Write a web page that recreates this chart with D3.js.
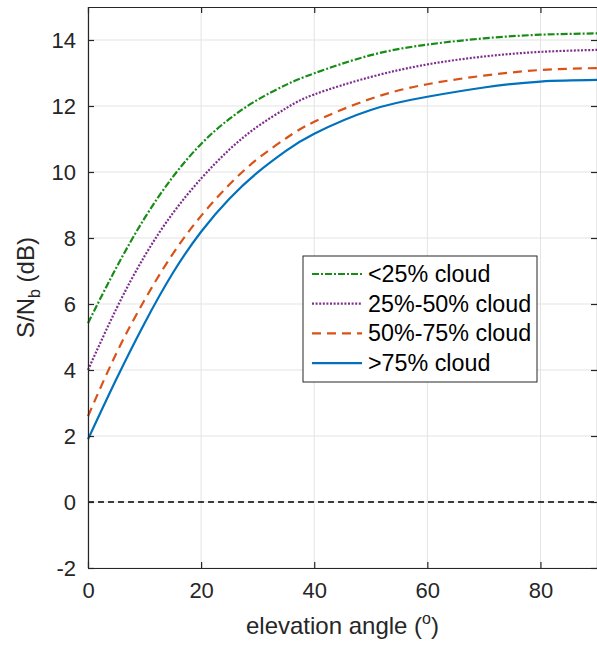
<!DOCTYPE html>
<html>
<head>
<meta charset="utf-8">
<script src="https://cdn.jsdelivr.net/npm/d3@7"></script>
<style>
  body { margin: 0; background: #fff; }
  svg { display: block; font-family: "Liberation Sans", Arial, sans-serif; }
</style>
</head>
<body>
<div class="chart"></div>
<script>
'use strict';

// values
var angles   = [0, 5, 10, 15, 20, 25, 30, 35, 40, 50, 60, 70, 80, 90];
var cloud25  = [5.42, 7.1, 8.6, 9.85, 10.85, 11.61, 12.19, 12.64, 12.99, 13.54, 13.86, 14.05, 14.16, 14.2];
var cloud50  = [4.0, 5.85, 7.45, 8.75, 9.8, 10.68, 11.38, 11.93, 12.35, 12.88, 13.26, 13.5, 13.64, 13.7];
var cloud75  = [2.6, 4.5, 6.12, 7.52, 8.67, 9.62, 10.4, 11.02, 11.52, 12.22, 12.66, 12.92, 13.09, 13.15];
var cloud100 = [1.9, 3.72, 5.42, 6.94, 8.19, 9.19, 9.99, 10.64, 11.16, 11.88, 12.28, 12.56, 12.74, 12.79];

var seriesNames = ["<25% cloud", "25%-50% cloud", "50%-75% cloud", ">75% cloud"];
var seriesColors = ["#178c17", "#7e2f8e", "#d95319", "#0072bd"];
var seriesDash = ["7,2,2,2", "2,1.6", "9,6", null];
var seriesValues = [cloud25, cloud50, cloud75, cloud100];

var xTicks = [0, 20, 40, 60, 80];
var yTicks = [-2, 0, 2, 4, 6, 8, 10, 12, 14];

var W = 597, H = 645;
var margin = {top: 7, right: 0, bottom: 77, left: 88};

var svg = d3.select(".chart").append("svg")
    .attr("width", W)
    .attr("height", H);

var x = d3.scaleLinear().domain([0, 90]).range([margin.left, W - margin.right]);
var y = d3.scaleLinear().domain([-2, 15]).range([H - margin.bottom, margin.top]);

// grid
svg.append("g").selectAll("line")
    .data(xTicks).enter().append("line")
    .attr("x1", function(d){ return x(d); }).attr("x2", function(d){ return x(d); })
    .attr("y1", y(-2)).attr("y2", y(15))
    .attr("stroke", "#e3e3e3").attr("stroke-width", 1);
svg.append("g").selectAll("line")
    .data(yTicks).enter().append("line")
    .attr("x1", x(0)).attr("x2", x(90))
    .attr("y1", function(d){ return y(d); }).attr("y2", function(d){ return y(d); })
    .attr("stroke", "#e3e3e3").attr("stroke-width", 1);

// zero reference
svg.append("line")
    .attr("x1", x(0)).attr("x2", x(90))
    .attr("y1", y(0)).attr("y2", y(0))
    .attr("stroke", "#000").attr("stroke-width", 1.3)
    .attr("stroke-dasharray", "6,4");

// curves
var line = d3.line()
    .x(function(d, i){ return x(angles[i]); })
    .y(function(d){ return y(d); })
    .curve(d3.curveNatural);

seriesValues.forEach(function(vals, k){
    svg.append("path")
        .attr("d", line(vals))
        .attr("fill", "none")
        .attr("stroke", seriesColors[k])
        .attr("stroke-width", 2.2)
        .attr("stroke-dasharray", seriesDash[k]);
});

// axes (box with inward ticks)
var axisColor = "#262626";
var fmt = function(d){ return String(d); };
var xb = d3.axisBottom(x).tickValues(xTicks).tickSizeInner(-6).tickSizeOuter(0).tickPadding(14).tickFormat(fmt);
var xt = d3.axisTop(x).tickValues(xTicks).tickSizeInner(-6).tickSizeOuter(0).tickFormat("");
var yl = d3.axisLeft(y).tickValues(yTicks).tickSizeInner(-6).tickSizeOuter(0).tickPadding(12).tickFormat(fmt);
var yr = d3.axisRight(y).tickValues(yTicks).tickSizeInner(-6).tickSizeOuter(0).tickFormat("");

function styleAxis(g){
    g.select(".domain").attr("stroke", axisColor).attr("stroke-width", 1.2);
    g.selectAll(".tick line").attr("stroke", axisColor).attr("stroke-width", 1.2);
    g.selectAll(".tick text").attr("fill", "#262626").attr("font-size", 22)
        .attr("font-family", "Liberation Sans, Arial, sans-serif");
}

svg.append("g").attr("transform", "translate(0," + y(-2) + ")").call(xb).call(styleAxis);
svg.append("g").attr("transform", "translate(0," + y(15) + ")").call(xt).call(styleAxis);
svg.append("g").attr("transform", "translate(" + x(0) + ",0)").call(yl).call(styleAxis);
svg.append("g").attr("transform", "translate(" + x(90) + ",0)").call(yr).call(styleAxis);

// axis labels
var xl = svg.append("text")
    .attr("x", x(45)).attr("y", 634)
    .attr("text-anchor", "middle")
    .attr("font-size", 24).attr("fill", "#262626");
xl.append("tspan").text("elevation angle (");
xl.append("tspan").attr("font-size", 16).attr("dy", -10).text("o");
xl.append("tspan").attr("dy", 10).text(")");

var ylab = svg.append("text")
    .attr("transform", "translate(34," + ((y(-2) + y(15)) / 2) + ") rotate(-90)")
    .attr("text-anchor", "middle")
    .attr("font-size", 24).attr("fill", "#262626");
ylab.append("tspan").text("S/N");
ylab.append("tspan").attr("font-size", 16).attr("dy", 6).text("b");
ylab.append("tspan").attr("dy", -6).text(" (dB)");

// legend
var legX = 303, legY = 256, legW = 234, legH = 126, rowH = 29.7;
var leg = svg.append("g");
leg.append("rect")
    .attr("x", legX).attr("y", legY).attr("width", legW).attr("height", legH)
    .attr("fill", "#fff").attr("stroke", "#262626").attr("stroke-width", 1);

seriesNames.forEach(function(name, k){
    var cy = legY + 18 + k * rowH;
    leg.append("line")
        .attr("x1", legX + 9).attr("x2", legX + 59)
        .attr("y1", cy).attr("y2", cy)
        .attr("stroke", seriesColors[k]).attr("stroke-width", 2.2)
        .attr("stroke-dasharray", seriesDash[k]);
    leg.append("text")
        .attr("x", legX + 65).attr("y", cy + 8)
        .attr("font-size", 23.3).attr("fill", "#000")
        .text(name);
});
</script>
</body>
</html>
